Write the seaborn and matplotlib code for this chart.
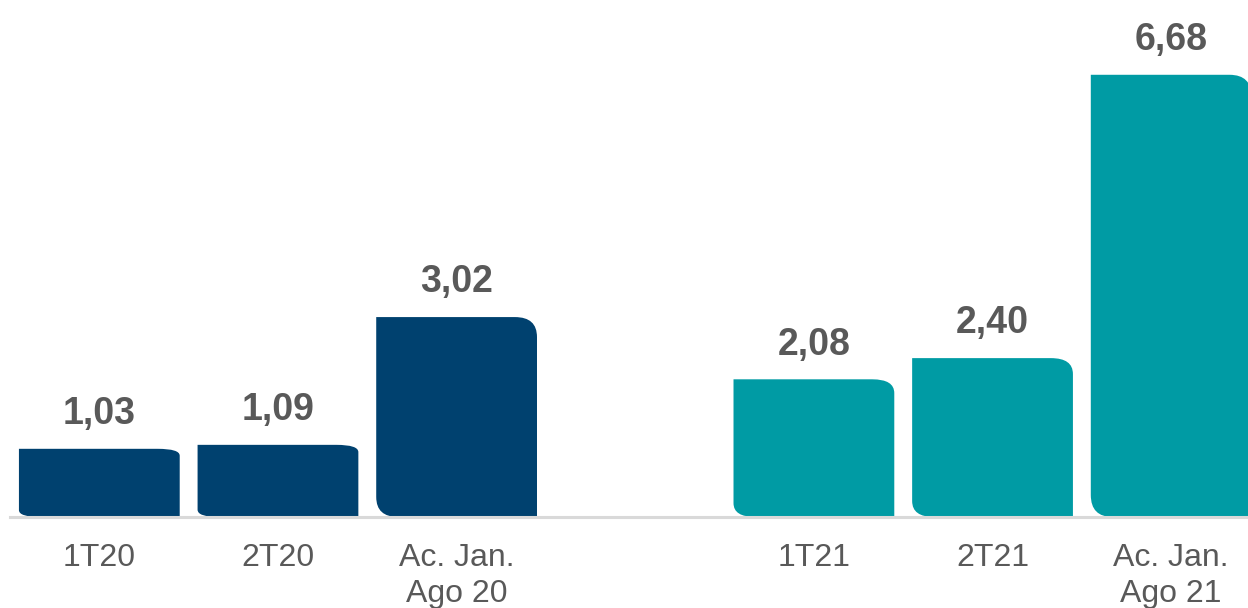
import numpy as np
import pandas as pd
import seaborn as sns
import matplotlib.pyplot as plt
from matplotlib.path import Path
from matplotlib.patches import PathPatch

# data (the blank category is just a spacer between the two years)
categorias = ["1T20", "2T20", "Ac. Jan.\nAgo 20", " ", "1T21", "2T21", "Ac. Jan.\nAgo 21"]
valores = [1.03, 1.09, 3.02, 0.0, 2.08, 2.40, 6.68]
grupo = ["2020", "2020", "2020", "2020", "2021", "2021", "2021"]
cores = {"2020": "#00416F", "2021": "#009BA4"}

df = pd.DataFrame({"cat": categorias, "valor": valores, "grupo": grupo})

sns.set_theme(style="white")
plt.rcParams["font.family"] = ["Liberation Sans", "DejaVu Sans"]

W, H = 1248, 608
fig = plt.figure(figsize=(W / 100, H / 100), dpi=100)
ax = fig.add_axes([10 / W, (H - 517) / H, 1238 / W, 496.5 / H])

sns.barplot(data=df, x="cat", y="valor", hue="grupo", palette=cores,
            order=categorias, dodge=False, width=0.9, saturation=1,
            legend=False, ax=ax)

ax.set_xlim(-0.5, 6.43)
ax.set_ylim(0, 7.5)

# px -> data units
px_x = 1 / 178.7
px_y = 1 / 66.2

# swap plain rectangles for bars with rounded top-right / bottom-left corners
for p in list(ax.patches):
    h = p.get_height()
    if h <= 0:
        p.remove()
        continue
    x0 = p.get_x()
    x1 = x0 + p.get_width()
    rx = 22 * px_x
    ry = min(22 * px_y, 0.1 * h)
    verts = [
        (x0 + rx, 0), (x1, 0), (x1, h - ry),
        (x1, h), (x1 - rx, h),
        (x0, h), (x0, ry),
        (x0, 0), (x0 + rx, 0),
        (x0 + rx, 0),
    ]
    codes = [Path.MOVETO, Path.LINETO, Path.LINETO,
             Path.CURVE3, Path.CURVE3,
             Path.LINETO, Path.LINETO,
             Path.CURVE3, Path.CURVE3,
             Path.CLOSEPOLY]
    ax.add_patch(PathPatch(Path(verts, codes), facecolor=p.get_facecolor(),
                           edgecolor="none", zorder=2))
    ax.annotate(f"{h:.2f}".replace(".", ","), (x0 + p.get_width() / 2, h),
                xytext=(0, 12), textcoords="offset points",
                ha="center", va="bottom", fontsize=27, fontweight="bold",
                color="#595959")
    p.remove()

for s in ["top", "right", "left"]:
    ax.spines[s].set_visible(False)
ax.spines["bottom"].set_color("#D9D9D9")
ax.spines["bottom"].set_linewidth(2.2)
ax.spines["bottom"].set_zorder(3)

ax.set_yticks([])
ax.set_xlabel("")
ax.set_ylabel("")
ax.tick_params(axis="x", length=0, pad=19, labelsize=23, labelcolor="#595959")
for t in ax.get_xticklabels():
    t.set_linespacing(1.25)

fig.savefig("out.png", dpi=100)
